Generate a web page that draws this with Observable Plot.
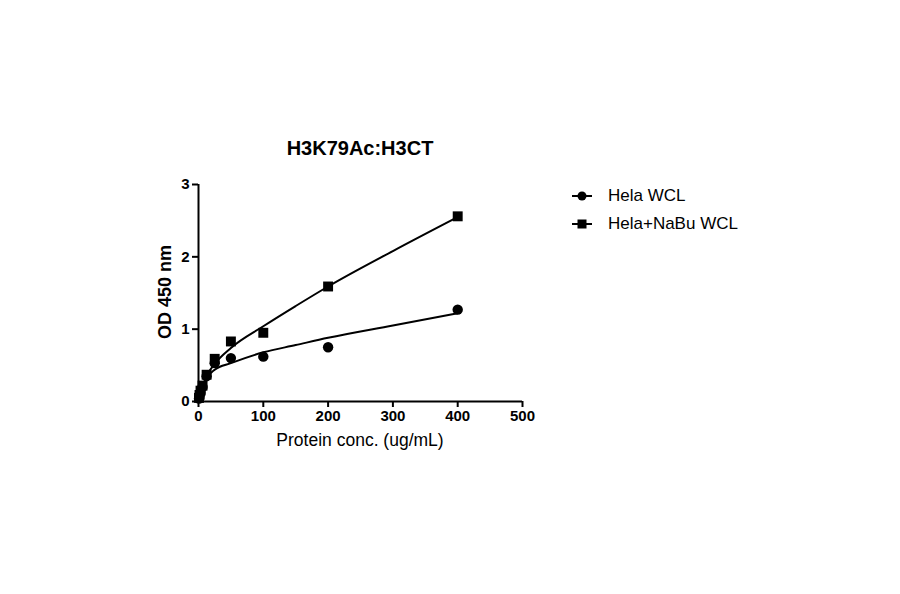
<!DOCTYPE html>
<html>
<head>
<meta charset="utf-8">
<script src="https://cdn.jsdelivr.net/npm/d3@7"></script>
<script src="https://cdn.jsdelivr.net/npm/@observablehq/plot@0.6"></script>
<style>
  body { margin: 0; background: #fff; }
  #wrap { position: relative; width: 900px; height: 594px; font-family: "Liberation Sans", Arial, sans-serif; color: #000; }
  #wrap svg.plot { position: absolute; left: 0; top: 0; }
  .abs { position: absolute; white-space: nowrap; }
  #title { left: 360px; top: 148px; transform: translate(-50%, -50%); font-size: 20px; font-weight: bold; }
  #ylab { left: 165px; top: 292px; transform: translate(-50%, -50%) rotate(-90deg); font-size: 18px; font-weight: bold; }
  #xlab { left: 360px; top: 440px; transform: translate(-50%, -50%); font-size: 17.5px; }
  #legend { left: 570px; top: 182px; font-size: 17px; }
  .lrow { display: flex; align-items: center; height: 28px; }
  .lrow svg { margin-right: 12px; }
</style>
</head>
<body>
<div id="wrap">
  <div id="title" class="abs">H3K79Ac:H3CT</div>
  <div id="ylab" class="abs">OD 450 nm</div>
  <div id="xlab" class="abs">Protein conc. (ug/mL)</div>
  <div id="legend" class="abs"></div>
</div>
<script>
const conc = [400, 200, 100, 50, 25, 12.5, 6.25, 3.125, 1.5625, 0.78];
const helaWCL = [1.27, 0.75, 0.62, 0.60, 0.53, 0.35, 0.20, 0.12, 0.07, 0.04];
const helaNaBuWCL = [2.56, 1.59, 0.95, 0.83, 0.59, 0.37, 0.22, 0.15, 0.09, 0.05];

// Fitted curves
const fitX = [0, 2, 5, 12.5, 25, 50, 100, 150, 200, 300, 400];
const helaFit = [0, 0.07, 0.17, 0.32, 0.44, 0.53, 0.68, 0.78, 0.88, 1.05, 1.22];
const nabuFit = [0, 0.07, 0.17, 0.35, 0.52, 0.74, 1.04, 1.32, 1.59, 2.08, 2.55];

const xTicks = [0, 100, 200, 300, 400, 500];
const yTicks = [0, 1, 2, 3];
const seriesNames = ["Hela WCL", "Hela+NaBu WCL"];

const pts = [
  ...conc.map((c, i) => ({x: c, y: helaWCL[i], s: seriesNames[0]})),
  ...conc.map((c, i) => ({x: c, y: helaNaBuWCL[i], s: seriesNames[1]}))
];
const fits = [
  ...fitX.map((c, i) => ({x: c, y: helaFit[i], s: seriesNames[0]})),
  ...fitX.map((c, i) => ({x: c, y: nabuFit[i], s: seriesNames[1]}))
];

const plot = Plot.plot({
  width: 900,
  height: 594,
  marginLeft: 198,
  marginRight: 378,
  marginTop: 184,
  marginBottom: 193,
  style: {fontFamily: "Liberation Sans, Arial, sans-serif", background: "transparent"},
  x: {domain: [0, 500], label: null},
  y: {domain: [0, 3], label: null},
  marks: [
    Plot.ruleY([0], {stroke: "black", strokeWidth: 2}),
    Plot.ruleX([0], {stroke: "black", strokeWidth: 2}),
    Plot.axisX({ticks: xTicks, tickSize: 6, tickPadding: 3, strokeWidth: 2, fontSize: 15, fontWeight: "bold", label: null, tickFormat: d => String(d)}),
    Plot.axisY({ticks: yTicks, tickSize: 6, tickPadding: 3, strokeWidth: 2, fontSize: 15, fontWeight: "bold", label: null, tickFormat: d => String(d)}),
    Plot.line(fits, {x: "x", y: "y", z: "s", stroke: "black", strokeWidth: 2, curve: "monotone-x"}),
    Plot.dot(pts.filter(d => d.s === seriesNames[0]), {x: "x", y: "y", symbol: () => "circle", r: 5.2, fill: "black", stroke: "none"}),
    Plot.dot(pts.filter(d => d.s === seriesNames[1]), {x: "x", y: "y", symbol: () => "square", r: 5.6, fill: "black", stroke: "none"})
  ]
});
plot.classList.add("plot");
document.getElementById("wrap").prepend(plot);

// Legend
const legend = document.getElementById("legend");
seriesNames.forEach((name, i) => {
  const row = document.createElement("div");
  row.className = "lrow";
  const shape = i === 0
    ? '<circle cx="12" cy="10" r="4.5" fill="black"/>'
    : '<rect x="7.5" y="5.5" width="9" height="9" fill="black"/>';
  row.innerHTML = `<svg width="26" height="20"><line x1="2" x2="22" y1="10" y2="10" stroke="black" stroke-width="2"/>${shape}</svg><span>${name}</span>`;
  legend.appendChild(row);
});
</script>
</body>
</html>
